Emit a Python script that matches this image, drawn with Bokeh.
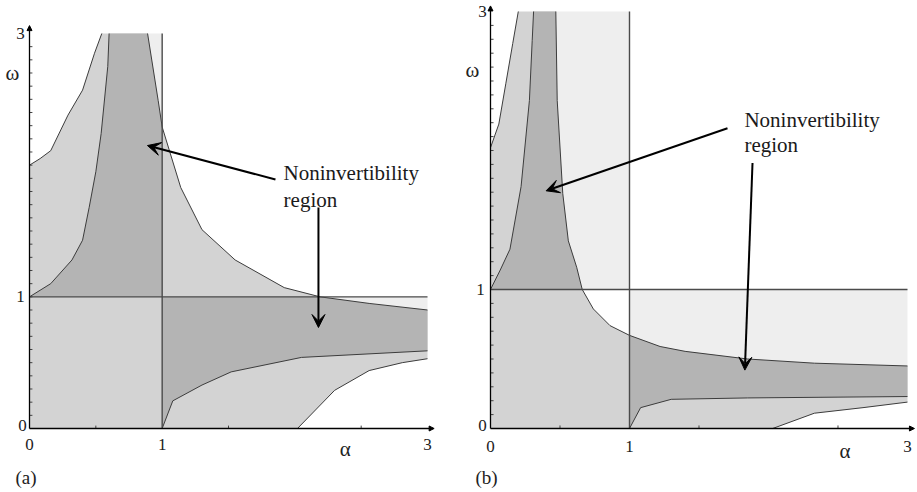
import numpy as np
from bokeh.plotting import figure
from bokeh.layouts import row
from bokeh.models import Arrow, VeeHead, NormalHead, Range1d
from bokeh.core.properties import value
from bokeh.embed import file_html
from bokeh.resources import INLINE

# ---------------- data (alpha, omega) ----------------
# Panel (a)
A_O_x = [0.0, 0.08, 0.16, 0.29, 0.40, 0.49, 0.545]
A_O_y = [2.0, 2.05, 2.11, 2.38, 2.57, 2.85, 3.0]
A_DL_x = [0.0, 0.16, 0.32, 0.40, 0.45, 0.50, 0.54, 0.59, 0.60]
A_DL_y = [1.0, 1.10, 1.28, 1.43, 1.68, 1.95, 2.24, 2.75, 3.0]
A_C1_x = [0.89, 0.97, 1.0, 1.14, 1.30, 1.55, 1.92, 2.19, 2.56, 3.0]
A_C1_y = [3.0, 2.49, 2.29, 1.83, 1.51, 1.28, 1.07, 1.0, 0.95, 0.90]
A_L1_x = [1.0, 1.08, 1.30, 1.52, 2.05, 3.0]
A_L1_y = [0.0, 0.21, 0.33, 0.43, 0.54, 0.59]
A_L2_x = [2.02, 2.30, 2.56, 2.81, 3.0]
A_L2_y = [0.0, 0.29, 0.44, 0.50, 0.53]

# Panel (b)
B_O_x = [0.0, 0.06, 0.11, 0.16, 0.20]
B_O_y = [2.02, 2.19, 2.48, 2.77, 3.0]
B_DL_x = [0.0, 0.07, 0.14, 0.22, 0.28, 0.30, 0.31]
B_DL_y = [1.0, 1.14, 1.29, 1.74, 2.36, 2.79, 3.0]
B_C1_x = [0.47, 0.48, 0.52, 0.56, 0.62, 0.66, 0.74, 0.86, 1.0, 1.22, 1.40, 1.85, 2.33, 3.0]
B_C1_y = [3.0, 2.36, 1.69, 1.35, 1.16, 1.0, 0.86, 0.74, 0.67, 0.59, 0.555, 0.50, 0.47, 0.45]
B_L1_x = [1.0, 1.08, 1.30, 1.85, 3.0]
B_L1_y = [0.0, 0.15, 0.21, 0.22, 0.23]
B_L2_x = [2.03, 2.33, 2.68, 3.0]
B_L2_y = [0.0, 0.11, 0.15, 0.19]

SPLIT = 1.0          # alpha = 1 and omega = 1 lines
AX_MAX = 3.0
X_TICK_LABELS = ["0", "1", "3"]
X_TICK_POS = [0.0, 1.0, 3.0]
Y_TICK_LABELS = ["0", "1", "3"]
Y_TICK_POS = [0.02, 1.0, 3.0]
LABEL_TEXT = ["Noninvertibility", "region"]

LIGHT = "#d3d3d3"
DARK = "#b4b4b4"
LIGHTEST = "#eeeeee"
EDGE = "#3c3c3c"
SERIF = "Liberation Serif, Times New Roman, serif"


def make_panel(cfg):
    p = figure(width=cfg["w"], height=cfg["h"], output_backend="svg", toolbar_location=None,
               x_range=Range1d(*cfg["xr"]), y_range=Range1d(*cfg["yr"]),
               min_border=0, min_border_left=0, min_border_right=0,
               min_border_top=0, min_border_bottom=0)
    p.axis.visible = False
    p.grid.visible = False
    p.outline_line_color = None
    p.background_fill_color = "white"
    p.border_fill_color = "white"

    Ox, Oy = np.array(cfg["O"][0]), np.array(cfg["O"][1])
    Dx, Dy = np.array(cfg["DL"][0]), np.array(cfg["DL"][1])
    Cx, Cy = np.array(cfg["C1"][0]), np.array(cfg["C1"][1])
    L1x, L1y = np.array(cfg["L1"][0]), np.array(cfg["L1"][1])
    L2x, L2y = np.array(cfg["L2"][0]), np.array(cfg["L2"][1])

    s = SPLIT
    up = (Cx <= s) & (Cy >= s)
    lo = (Cx >= s) & (Cy <= s)

    # light region
    lx = np.concatenate([[0.0], L2x, Cx[::-1], Ox[::-1]])
    ly = np.concatenate([[0.0], L2y, Cy[::-1], Oy[::-1]])
    p.patch(lx, ly, fill_color=LIGHT, line_color=None)

    # lightest regions
    e1x = np.concatenate([Cx[up], [s, s]])
    e1y = np.concatenate([Cy[up], [s, AX_MAX]])
    p.patch(e1x, e1y, fill_color=LIGHTEST, line_color=None)
    e2x = np.concatenate([[s], Cx[lo], [AX_MAX]])
    e2y = np.concatenate([[s], Cy[lo], [s]])
    p.patch(e2x, e2y, fill_color=LIGHTEST, line_color=None)

    # dark regions
    d1x = np.concatenate([Dx, Cx[up], [s]])
    d1y = np.concatenate([Dy, Cy[up], [s]])
    p.patch(d1x, d1y, fill_color=DARK, line_color=None)
    d2x = np.concatenate([[s], Cx[lo], L1x[::-1]])
    d2y = np.concatenate([[s], Cy[lo], L1y[::-1]])
    p.patch(d2x, d2y, fill_color=DARK, line_color=None)

    # boundary curves
    for cx, cy in [(Ox, Oy), (Dx, Dy), (Cx, Cy), (L1x, L1y), (L2x, L2y)]:
        p.line(cx, cy, line_color=EDGE, line_width=1)

    # alpha = 1 and omega = 1 lines
    p.segment(x0=[0.0, s], y0=[s, 0.0], x1=[AX_MAX, s], y1=[s, AX_MAX],
              line_color="#4a4a4a", line_width=1.4)

    # axes with arrows
    tip = cfg["axtip"]
    p.add_layout(Arrow(end=NormalHead(size=5, fill_color="black", line_color="black"),
                       x_start=0, y_start=0, x_end=0, y_end=tip[1],
                       line_color="black", line_width=1.3))
    p.add_layout(Arrow(end=NormalHead(size=5, fill_color="black", line_color="black"),
                       x_start=0, y_start=0, x_end=tip[0], y_end=0,
                       line_color="black", line_width=1.3))
    # minor ticks
    sx = cfg["tick_dx"]
    sy = cfg["tick_dy"]
    yt = np.round(np.arange(0.1, 3.0, 0.1), 2)
    p.segment(x0=np.zeros_like(yt), y0=yt, x1=np.full_like(yt, sx), y1=yt,
              line_color="#444444", line_width=1)
    xt = np.array([0.5, 1.5, 2.5])
    p.segment(x0=xt, y0=np.zeros_like(xt), x1=xt, y1=np.full_like(xt, sy),
              line_color="#444444", line_width=1)

    # tick labels
    lab = cfg["labels"]
    p.text(x=X_TICK_POS, y=[lab["xtick_y"]] * 3, text=X_TICK_LABELS,
           text_font=value(SERIF), text_font_size="17px", text_color="#222222",
           text_align="center", text_baseline="middle")
    p.text(x=lab["ytick_x"], y=Y_TICK_POS, text=Y_TICK_LABELS,
           text_font=value(SERIF), text_font_size="17px", text_color="#222222",
           text_align="center", text_baseline="middle")
    p.text(x=[lab["omega"][0]], y=[lab["omega"][1]], text=["ω"],
           text_font=value(SERIF), text_font_size="21px", text_color="#222222",
           text_align="center", text_baseline="middle")
    p.text(x=[lab["alpha"][0]], y=[lab["alpha"][1]], text=["α"],
           text_font=value(SERIF), text_font_size="21px", text_color="#222222",
           text_align="center", text_baseline="middle")
    p.text(x=[lab["panel"][0]], y=[lab["panel"][1]], text=[cfg["name"]],
           text_font=value(SERIF), text_font_size="19px", text_color="#222222",
           text_align="left", text_baseline="middle")

    # annotation
    ax, ay1, ay2 = cfg["note"]
    p.text(x=[ax, ax], y=[ay1, ay2], text=LABEL_TEXT,
           text_font=value(SERIF), text_font_size="21px", text_color="#1a1a1a",
           text_align="left", text_baseline="alphabetic")
    for (x0, y0, x1, y1) in cfg["arrows"]:
        p.add_layout(Arrow(end=VeeHead(size=13, fill_color="black", line_color="black"),
                           x_start=x0, y_start=y0, x_end=x1, y_end=y1,
                           line_color="black", line_width=2))
    return p


cfg_a = dict(
    name="(a)", w=458, h=490,
    xr=(-0.2186, 3.2336), yr=(-0.4709, 3.2506),
    O=(A_O_x, A_O_y), DL=(A_DL_x, A_DL_y), C1=(A_C1_x, A_C1_y),
    L1=(A_L1_x, A_L1_y), L2=(A_L2_x, A_L2_y),
    axtip=(3.05, 3.06), tick_dx=0.022, tick_dy=0.022,
    labels=dict(xtick_y=-0.118, ytick_x=[-0.053, -0.068, -0.068],
                omega=(-0.128, 2.70), alpha=(2.38, -0.158), panel=(-0.106, -0.372)),
    note=(1.915, 1.944, 1.739),
    arrows=[(1.854, 1.891, 0.889, 2.149), (2.178, 1.678, 2.178, 0.767)],
)

cfg_b = dict(
    name="(b)", w=457, h=490,
    xr=(-0.2302, 3.0576), yr=(-0.4460, 3.0791),
    O=(B_O_x, B_O_y), DL=(B_DL_x, B_DL_y), C1=(B_C1_x, B_C1_y),
    L1=(B_L1_x, B_L1_y), L2=(B_L2_x, B_L2_y),
    axtip=(3.05, 3.04), tick_dx=0.022, tick_dy=0.022,
    labels=dict(xtick_y=-0.13, ytick_x=[-0.058, -0.072, -0.058],
                omega=(-0.13, 2.58), alpha=(2.55, -0.16), panel=(-0.108, -0.35)),
    note=(1.827, 2.216, 2.036),
    arrows=[(1.705, 2.16, 0.40, 1.71), (1.885, 1.91, 1.83, 0.42)],
)

pa = make_panel(cfg_a)
pb = make_panel(cfg_b)
layout = row(pa, pb)
open("out.html", "w").write(file_html(layout, INLINE))
